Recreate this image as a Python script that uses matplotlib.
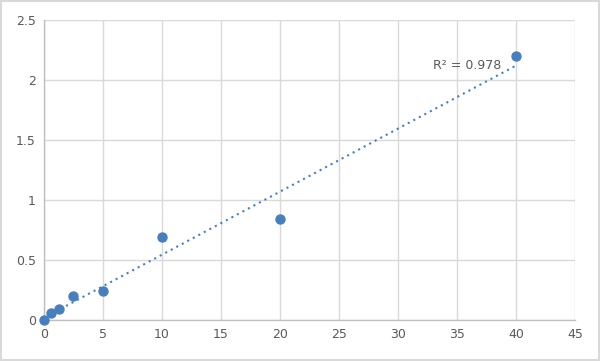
import numpy as np
import matplotlib
matplotlib.use("Agg")
import matplotlib.pyplot as plt
from matplotlib.patches import Rectangle

# standard curve points
conc = [0, 0.625, 1.25, 2.5, 5, 10, 20, 40]
od = [0.0, 0.06, 0.09, 0.20, 0.24, 0.69, 0.84, 2.20]

x_ticks = [0, 5, 10, 15, 20, 25, 30, 35, 40, 45]
y_ticks = [0, 0.5, 1, 1.5, 2, 2.5]
y_tick_labels = ["0", "0.5", "1", "1.5", "2", "2.5"]

point_color = "#4a7ebb"
grid_color = "#d9d9d9"
text_color = "#595959"

fig = plt.figure(figsize=(6, 3.61), dpi=100)
ax = fig.add_axes([0.0733, 0.1136, 0.885, 0.831])

# linear trendline
slope, intercept = np.polyfit(conc, od, 1)
pred = slope * np.array(conc) + intercept
ss_res = np.sum((np.array(od) - pred) ** 2)
ss_tot = np.sum((np.array(od) - np.mean(od)) ** 2)
r2 = 1 - ss_res / ss_tot
xs = np.linspace(min(conc), max(conc), 100)
ax.plot(xs, slope * xs + intercept, linestyle=(0, (1, 2)), color=point_color,
        linewidth=1.5, zorder=2)

ax.scatter(conc, od, s=42, color=point_color, zorder=3, clip_on=False)

ax.set_xlim(0, 45)
ax.set_ylim(0, 2.5)
ax.set_xticks(x_ticks)
ax.set_yticks(y_ticks)
ax.set_yticklabels(y_tick_labels)
ax.grid(True, color=grid_color, linewidth=1)
ax.set_axisbelow(True)
ax.tick_params(length=0, labelsize=9, labelcolor=text_color, pad=6)
for side in ["top", "right"]:
    ax.spines[side].set_visible(False)
for side in ["left", "bottom"]:
    ax.spines[side].set_color("#bfbfbf")
    ax.spines[side].set_linewidth(1)

ax.text(35.9, 2.12, "R² = %.3f" % r2, fontsize=9, color=text_color,
        ha="center", va="center")

fig.patches.append(Rectangle((0.002, 0.003), 0.996, 0.994, transform=fig.transFigure,
                             fill=False, edgecolor=grid_color, linewidth=1.5))

fig.savefig("out.png", dpi=100)
